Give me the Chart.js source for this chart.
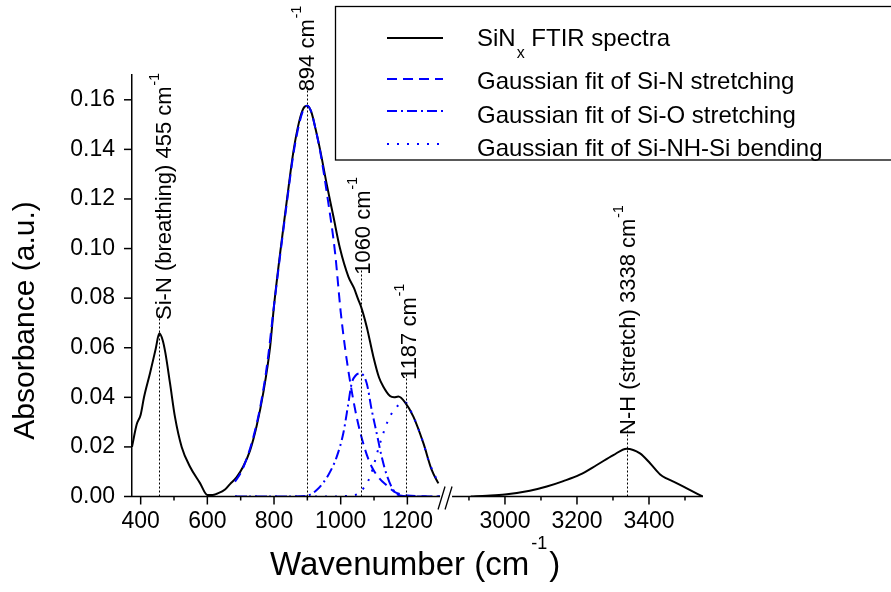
<!DOCTYPE html>
<html lang="en">
<head>
<meta charset="UTF-8">
<title>SiNx FTIR spectra</title>
<script src="https://cdn.jsdelivr.net/npm/chart.js"></script>
<style>
  body { margin: 0; background: #fff; }
  .chart-box { position: relative; width: 891px; height: 592px; }
</style>
</head>
<body>
<div class="chart-box"><canvas id="ftirChart"></canvas></div>
<script>
// measured spectrum (wavenumber in cm-1, absorbance in a.u.)
const spectrumLeftWave = [374, 388, 400, 410, 428, 445, 456, 466, 474, 488, 503, 523, 548, 578, 600, 615, 630, 653, 668, 688, 708, 728, 748, 768, 788, 800, 820, 840, 858, 875, 888, 900, 912, 925, 938, 958, 978, 998, 1023, 1040, 1053, 1060, 1078, 1098, 1115, 1128, 1148, 1160, 1173, 1193, 1218, 1248, 1273, 1293];
const spectrumLeftAbs = [0.020, 0.029, 0.033, 0.040, 0.0497, 0.0595, 0.0658, 0.063, 0.058, 0.0457, 0.032, 0.020, 0.012, 0.0054, 0.0006, 0.0006, 0.0012, 0.0028, 0.005, 0.0078, 0.0122, 0.0185, 0.0285, 0.042, 0.060, 0.077, 0.100, 0.121, 0.139, 0.151, 0.1565, 0.1576, 0.155, 0.148, 0.140, 0.126, 0.113, 0.100, 0.0887, 0.084, 0.0793, 0.077, 0.0685, 0.0564, 0.048, 0.0443, 0.0405, 0.040, 0.0403, 0.038, 0.0322, 0.0215, 0.0107, 0.0053];
const spectrumRightWave = [2905, 2950, 3000, 3069, 3116, 3162, 3208, 3255, 3301, 3338, 3375, 3403, 3431, 3450, 3468, 3505, 3549];
const spectrumRightAbs = [0.0, 0.0003, 0.0008, 0.0023, 0.004, 0.0062, 0.0088, 0.0127, 0.0167, 0.0193, 0.0174, 0.0134, 0.0089, 0.0072, 0.006, 0.0033, 0.0];

// gaussian fits
const siNWave = [683, 700, 720, 740, 760, 780, 800, 820, 840, 858, 875, 888, 900, 912, 925, 940, 960, 983, 1000, 1013, 1028, 1048, 1073, 1093, 1115, 1138, 1160, 1178, 1200, 1240, 1298];
const siNAbs = [0.006, 0.0095, 0.016, 0.025, 0.037, 0.054, 0.077, 0.099, 0.120, 0.138, 0.150, 0.156, 0.1576, 0.155, 0.148, 0.138, 0.121, 0.0985, 0.0745, 0.060, 0.0465, 0.032, 0.019, 0.012, 0.0075, 0.0045, 0.002, 0.001, 0.0004, 0.0001, 0];
const siOWave = [683, 760, 840, 898, 928, 963, 988, 1008, 1023, 1033, 1045, 1058, 1078, 1093, 1108, 1123, 1138, 1158, 1178, 1240, 1298];
const siOAbs = [0, 0, 0, 0.0003, 0.0026, 0.0087, 0.016, 0.0256, 0.0376, 0.0457, 0.0488, 0.0497, 0.0457, 0.0349, 0.0255, 0.016, 0.0087, 0.0026, 0.0004, 0, 0];
const siNHWave = [683, 800, 950, 1040, 1060, 1088, 1118, 1143, 1168, 1185, 1193, 1218, 1248, 1263, 1293];
const siNHAbs = [0, 0, 0, 0.0005, 0.002, 0.008, 0.0215, 0.031, 0.0362, 0.0378, 0.038, 0.0322, 0.0215, 0.0147, 0.0053];

// peak markers
const peakPos = [455, 900, 1060, 1195, 3338];
const peakText = ['Si-N (breathing) 455 cm', '894 cm', '1060 cm', '1187 cm', 'N-H (stretch) 3338 cm'];
const peakLabelAt = [0.0712, 0.1634, 0.0894, 0.047, 0.0248];   // absorbance where label text starts
const peakLabelDx = [5.5, 0, 2, 3.5, 1.5];

// axis ticks
const xMajor = [400, 600, 800, 1000, 1200, 3000, 3200, 3400];
const xMinor = [500, 700, 900, 1100, 2900, 3100, 3300, 3500];
const yStep = 0.01;

const legendNames = ['SiN', 'Gaussian fit of Si-N stretching', 'Gaussian fit of Si-O stretching', 'Gaussian fit of Si-NH-Si bending'];

// broken x axis: 374..1298 and 2853..3550
const breakLeft = 1298;
const breakRight = 2853;
const gapUnits = 36;
const rightStretch = 1.08;
const FONT = "'Liberation Sans', Arial, sans-serif";

function toAxis(w) {
  if (w <= breakLeft) return w;
  return breakLeft + gapUnits + (w - breakRight) * rightStretch;
}
function fromAxis(u) {
  if (u <= breakLeft) return u;
  return (u - breakLeft - gapUnits) / rightStretch + breakRight;
}
const pts = (xs, ys) => xs.map((w, i) => ({ x: toAxis(w), y: ys[i] }));

const DASH = [10, 6];
const DASHDOT = [10, 4, 2, 4];
const DOT = [2, 8];

function rotatedText(ctx, x, y, main, sup, size) {
  ctx.save();
  ctx.translate(x, y);
  ctx.rotate(-Math.PI / 2);
  ctx.font = `${size}px ${FONT}`;
  ctx.textAlign = 'left';
  ctx.textBaseline = 'middle';
  ctx.fillText(main, 0, 0);
  if (sup) {
    const w = ctx.measureText(main).width;
    ctx.font = `${Math.round(size * 0.62)}px ${FONT}`;
    ctx.fillText(sup, w + 1, -size * 0.45);
  }
  ctx.restore();
}

const decorations = {
  id: 'decorations',
  afterDatasetsDraw(chart) {
    const { ctx, scales: { x, y } } = chart;
    ctx.save();
    ctx.fillStyle = '#000';
    peakPos.forEach((w, i) => {
      const px = Math.round(x.getPixelForValue(toAxis(w))) + 0.5;
      const yStart = y.getPixelForValue(peakLabelAt[i]);
      ctx.strokeStyle = '#000';
      ctx.lineWidth = 1;
      ctx.setLineDash([2, 2]);
      ctx.beginPath();
      ctx.moveTo(px, y.bottom);
      ctx.lineTo(px, yStart - 7);
      ctx.stroke();
      ctx.setLineDash([]);
      rotatedText(ctx, px + peakLabelDx[i], yStart, peakText[i], '-1', 22);
    });
    ctx.restore();
  },
  afterDraw(chart) {
    const { ctx, scales: { x, y } } = chart;
    const bottom = y.bottom;
    ctx.save();
    ctx.strokeStyle = '#000';
    ctx.fillStyle = '#000';
    ctx.lineWidth = 1.5;

    // y ticks
    y.ticks.forEach(t => {
      const py = y.getPixelForValue(t.value);
      const major = Math.round(t.value * 100) % 2 === 0;
      ctx.beginPath();
      ctx.moveTo(y.right, py);
      ctx.lineTo(y.right - (major ? 8 : 4), py);
      ctx.stroke();
    });
    // x ticks
    x.ticks.forEach(t => {
      const px = x.getPixelForValue(t.value);
      const major = xMajor.includes(Math.round(fromAxis(t.value)));
      ctx.beginPath();
      ctx.moveTo(px, bottom);
      ctx.lineTo(px, bottom + (major ? 8 : 4));
      ctx.stroke();
    });

    // broken x axis line
    const xL = x.getPixelForValue(breakLeft);
    const xR = x.getPixelForValue(breakLeft + gapUnits);
    ctx.beginPath();
    ctx.moveTo(x.left, bottom);
    ctx.lineTo(xL, bottom);
    ctx.moveTo(xR, bottom);
    ctx.lineTo(x.right, bottom);
    ctx.stroke();
    ctx.lineWidth = 1.3;
    ctx.beginPath();
    ctx.moveTo(xL - 2, bottom + 13);
    ctx.lineTo(xL + 5, bottom - 10);
    ctx.moveTo(xL + 5, bottom + 13);
    ctx.lineTo(xL + 12, bottom - 10);
    ctx.stroke();

    // axis titles
    ctx.save();
    ctx.translate(26, 320.5);
    ctx.rotate(-Math.PI / 2);
    ctx.font = `30px ${FONT}`;
    ctx.textAlign = 'center';
    ctx.textBaseline = 'middle';
    ctx.fillText('Absorbance (a.u.)', 0, 0);
    ctx.restore();

    ctx.textAlign = 'left';
    ctx.textBaseline = 'alphabetic';
    ctx.font = `33px ${FONT}`;
    let tx = 270;
    ctx.fillText('Wavenumber (cm', tx, 575);
    tx += ctx.measureText('Wavenumber (cm').width + 2;
    ctx.font = `18px ${FONT}`;
    ctx.fillText('-1', tx, 549);
    tx += ctx.measureText('-1').width + 2;
    ctx.font = `33px ${FONT}`;
    ctx.fillText(')', tx, 575);

    // legend
    ctx.lineWidth = 1.3;
    ctx.strokeRect(335.5, 6.5, 560, 153.5);
    const rowsLine = [38, 79, 111, 144];
    const rowsText = [46, 89, 122.6, 155.6];
    const styles = [
      { color: '#000', dash: [] },
      { color: '#0000ff', dash: DASH },
      { color: '#0000ff', dash: DASHDOT },
      { color: '#0000ff', dash: DOT }
    ];
    styles.forEach((s, i) => {
      ctx.strokeStyle = s.color;
      ctx.lineWidth = 2;
      ctx.setLineDash(s.dash);
      ctx.beginPath();
      ctx.moveTo(387, rowsLine[i]);
      ctx.lineTo(443, rowsLine[i]);
      ctx.stroke();
    });
    ctx.setLineDash([]);
    ctx.font = `24px ${FONT}`;
    legendNames.forEach((name, i) => ctx.fillText(name, 477, rowsText[i]));
    let lx = 477 + ctx.measureText(legendNames[0]).width + 1;
    ctx.font = `16px ${FONT}`;
    ctx.fillText('x', lx, 58);
    lx += ctx.measureText('x').width;
    ctx.font = `24px ${FONT}`;
    ctx.fillText(' FTIR spectra', lx, rowsText[0]);
    ctx.restore();
  }
};

const lineDefaults = { borderWidth: 2, pointRadius: 0, cubicInterpolationMode: 'monotone', fill: false };

new Chart(document.getElementById('ftirChart').getContext('2d'), {
  type: 'line',
  data: {
    datasets: [
      { ...lineDefaults, label: 'Si-N fit', data: pts(siNWave, siNAbs), borderColor: '#0000ff', borderDash: DASH, order: 1 },
      { ...lineDefaults, label: 'Si-O fit', data: pts(siOWave, siOAbs), borderColor: '#0000ff', borderDash: DASHDOT, order: 2 },
      { ...lineDefaults, label: 'Si-NH-Si fit', data: pts(siNHWave, siNHAbs), borderColor: '#0000ff', borderDash: DOT, order: 3 },
      { ...lineDefaults, label: 'SiNx FTIR spectra', data: pts(spectrumLeftWave, spectrumLeftAbs), borderColor: '#000', order: 4 },
      { ...lineDefaults, label: 'SiNx FTIR spectra (high)', data: pts(spectrumRightWave, spectrumRightAbs), borderColor: '#000', order: 5 }
    ]
  },
  options: {
    responsive: true,
    maintainAspectRatio: false,
    animation: false,
    layout: { padding: { top: 75, right: 188, left: 0, bottom: 0 } },
    plugins: { legend: { display: false }, tooltip: { enabled: false } },
    scales: {
      x: {
        type: 'linear',
        min: toAxis(374),
        max: toAxis(3550),
        afterFit: s => { s.height = 95.5; },
        afterBuildTicks: s => {
          s.ticks = xMajor.concat(xMinor).sort((a, b) => a - b).map(w => ({ value: toAxis(w) }));
        },
        grid: { display: false, drawTicks: false },
        border: { display: false },
        ticks: {
          color: '#000',
          font: { family: FONT, size: 23 },
          padding: 11,
          autoSkip: false,
          maxRotation: 0,
          callback: v => {
            const w = Math.round(fromAxis(v));
            return xMajor.includes(w) ? String(w) : '';
          }
        }
      },
      y: {
        min: 0,
        max: 0.17,
        afterFit: s => { s.width = 132; },
        afterBuildTicks: s => {
          const list = [];
          for (let i = 0; i <= 17; i++) list.push({ value: +(i * yStep).toFixed(2) });
          s.ticks = list;
        },
        grid: { display: false, drawTicks: false },
        border: { display: true, color: '#000', width: 1.5 },
        ticks: {
          color: '#000',
          font: { family: FONT, size: 23 },
          padding: 17,
          callback: v => (Math.round(v * 100) % 2 === 0 ? v.toFixed(2) : '')
        }
      }
    }
  },
  plugins: [decorations]
});
</script>
</body>
</html>
